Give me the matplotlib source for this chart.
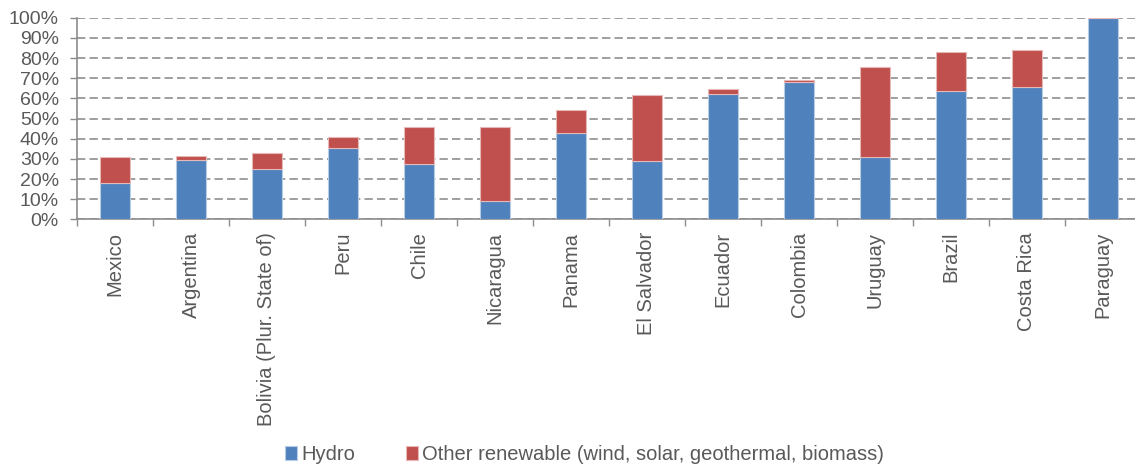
import matplotlib.pyplot as plt
import numpy as np
from matplotlib.ticker import FixedLocator, PercentFormatter

plt.rcParams['font.family'] = ['Liberation Sans', 'DejaVu Sans']

# data (share of electricity generation, %)
countries = ['Mexico', 'Argentina', 'Bolivia (Plur. State of)', 'Peru', 'Chile',
             'Nicaragua', 'Panama', 'El Salvador', 'Ecuador', 'Colombia',
             'Uruguay', 'Brazil', 'Costa Rica', 'Paraguay']
hydro = [17.9, 29.3, 24.8, 35.2, 27.3, 9.4, 42.7, 28.8, 62.3, 68.0, 31.2, 63.6, 65.5, 100.0]
total = [30.9, 31.7, 32.9, 40.7, 45.6, 45.6, 54.2, 61.7, 64.6, 69.1, 75.5, 82.8, 84.1, 100.0]
other = [t - h for t, h in zip(total, hydro)]

blue = '#4F81BD'
red = '#C0504D'
grey = '#595959'
axcol = '#8C8C8C'

fig = plt.figure(figsize=(11.35, 4.65), dpi=100)
ax = fig.add_axes([77 / 1135, 245.5 / 465, 1064 / 1135, 201.8 / 465])

x = np.arange(len(countries))
ax.bar(x, hydro, width=0.4, color=blue, edgecolor='#B8CCE4', linewidth=0.8,
       label='Hydro', zorder=3)
ax.bar(x, other, width=0.4, bottom=hydro, color=red, edgecolor='#E6B9B8', linewidth=0.8,
       label='Other renewable (wind, solar, geothermal, biomass)', zorder=3)

ax.set_xlim(-0.5, len(countries) - 0.5)
ax.set_ylim(0, 100)
ax.set_yticks(np.arange(0, 101, 10))
ax.yaxis.set_major_formatter(PercentFormatter(decimals=0))
ax.yaxis.grid(True, linestyle=(0, (5, 2.5)), color='#8F8F8F', linewidth=1.2, zorder=0)

ax.set_xticks(x)
ax.set_xticklabels(countries, rotation=90)
ax.xaxis.set_minor_locator(FixedLocator(np.arange(-0.5, len(countries), 1)))
ax.tick_params(axis='x', which='major', length=0, pad=9, labelsize=14.5)
ax.tick_params(axis='x', which='minor', length=5, color=axcol, width=1)
ax.tick_params(axis='y', length=5, color=axcol, width=1, pad=8, labelsize=14)
ax.tick_params(labelcolor=grey)

for s in ['top', 'right']:
    ax.spines[s].set_visible(False)
for s in ['left', 'bottom']:
    ax.spines[s].set_color(axcol)
    ax.spines[s].set_linewidth(1.2)

fig.legend(loc='lower center', bbox_to_anchor=(0.515, -0.036), ncol=2, frameon=False,
           fontsize=14.5, labelcolor=grey, handlelength=0.6, handleheight=0.7,
           handletextpad=0.2, columnspacing=2.5)

fig.savefig('out.png', dpi=100)
